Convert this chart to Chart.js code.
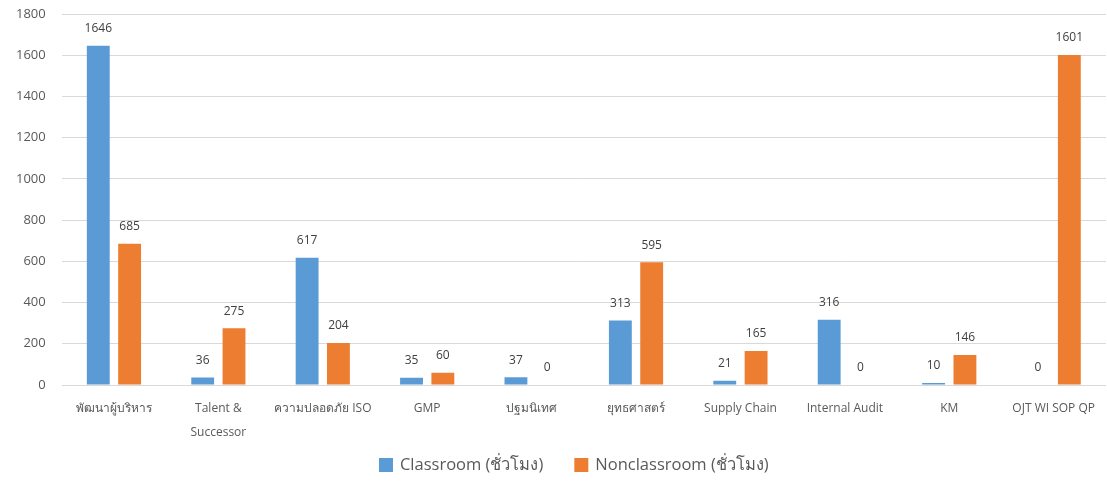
<!DOCTYPE html>
<html>
<head>
<meta charset="utf-8">
<script src="https://cdn.jsdelivr.net/npm/chart.js@4"></script>
<style>
  html, body { margin: 0; padding: 0; background: #fff; }
  #wrap { width: 1107px; height: 481px; }
</style>
</head>
<body>
<div id="wrap"><canvas id="myChart"></canvas></div>
<script>
const categories = [
  'พัฒนาผู้บริหาร',
  ['Talent &', 'Successor'],
  'ความปลอดภัย ISO',
  'GMP',
  'ปฐมนิเทศ',
  'ยุทธศาสตร์',
  'Supply Chain',
  'Internal Audit',
  'KM',
  'OJT WI SOP QP'
];
const classroom    = [1646, 36, 617, 35, 37, 313, 21, 316, 10, 0];
const nonclassroom = [685, 275, 204, 60, 0, 595, 165, 0, 146, 1601];
const seriesNames  = ['Classroom (ชั่วโมง)', 'Nonclassroom (ชั่วโมง)'];
const seriesColors = ['#5B9BD5', '#ED7D31'];
const yTicks       = [0, 200, 400, 600, 800, 1000, 1200, 1400, 1600, 1800];

const fontFamily = "'Open Sans', 'Noto Sans', sans-serif";

// draw value above each bar
const valueLabels = {
  id: 'valueLabels',
  afterDatasetsDraw(chart) {
    const ctx = chart.ctx;
    ctx.save();
    ctx.font = `12px ${fontFamily}`;
    ctx.fillStyle = '#404040';
    ctx.textAlign = 'center';
    ctx.textBaseline = 'bottom';
    chart.data.datasets.forEach((ds, i) => {
      chart.getDatasetMeta(i).data.forEach((bar, j) => {
        ctx.fillText(ds.data[j], bar.x, bar.y - 11);
      });
    });
    ctx.restore();
  }
};

// legend drawn by hand so the spacing can follow the picture
const bottomLegend = {
  id: 'bottomLegend',
  afterDraw(chart) {
    const ctx = chart.ctx;
    const area = chart.chartArea;
    ctx.save();
    ctx.font = `16.5px ${fontFamily}`;
    ctx.textBaseline = 'middle';
    const box = 14, gapBox = 7, gapItem = 31;
    const widths = seriesNames.map(n => box + gapBox + ctx.measureText(n).width);
    const total = widths.reduce((a, b) => a + b, 0) + gapItem;
    let x = (area.left + area.right - total) / 2 - 10;
    const y = 465;
    seriesNames.forEach((n, i) => {
      ctx.fillStyle = seriesColors[i];
      ctx.fillRect(x, y - box / 2, box, box);
      ctx.fillStyle = '#595959';
      ctx.fillText(n, x + box + gapBox, y);
      x += widths[i] + gapItem;
    });
    ctx.restore();
  }
};

const ctx = document.getElementById('myChart');
new Chart(ctx, {
  type: 'bar',
  data: {
    labels: categories,
    datasets: seriesNames.map((name, i) => ({
      label: name,
      data: i === 0 ? classroom : nonclassroom,
      backgroundColor: seriesColors[i],
      categoryPercentage: 0.6,
      barPercentage: 0.73
    }))
  },
  options: {
    responsive: true,
    maintainAspectRatio: false,
    animation: false,
    layout: { padding: { top: 14, right: 0, left: 0, bottom: 24 } },
    scales: {
      x: {
        grid: { display: false, drawTicks: false },
        border: { display: false },
        ticks: {
          color: '#595959',
          font: { family: fontFamily, size: 12, lineHeight: 2 },
          maxRotation: 0,
          autoSkip: false,
          padding: 12
        }
      },
      y: {
        min: 0,
        max: 1800,
        afterBuildTicks: (axis) => { axis.ticks = yTicks.map(v => ({ value: v })); },
        afterFit: (axis) => { axis.paddingTop = 0; axis.paddingBottom = 0; },
        grid: { color: '#d9d9d9', drawTicks: false },
        border: { display: false },
        ticks: {
          color: '#595959',
          font: { family: fontFamily, size: 13 },
          padding: 16,
          callback: (v) => String(v)
        }
      }
    },
    plugins: {
      legend: { display: false },
      tooltip: { enabled: false }
    }
  },
  plugins: [valueLabels, bottomLegend]
});
</script>
</body>
</html>
